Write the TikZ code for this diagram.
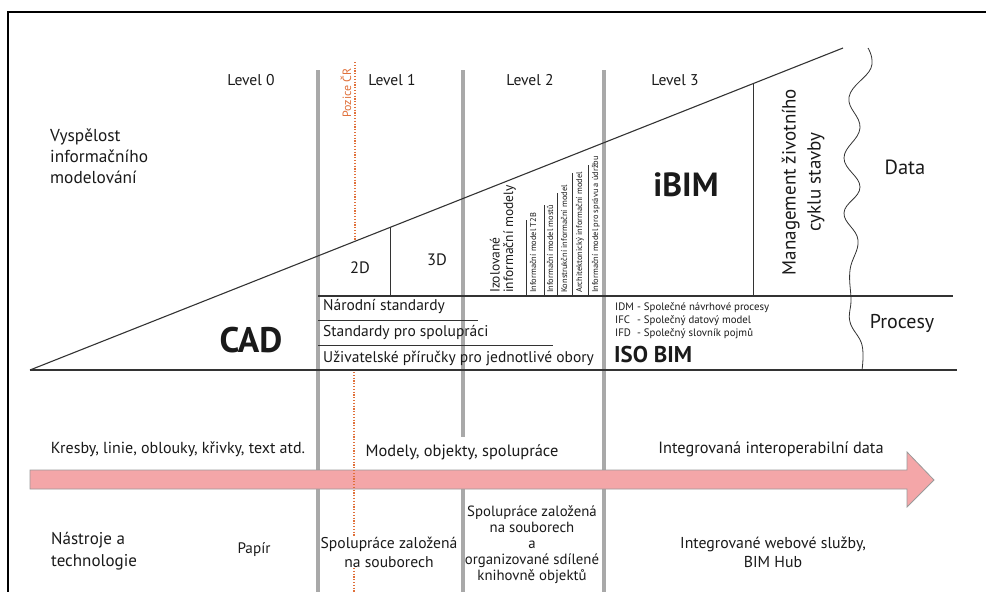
\documentclass[tikz,border=0pt]{standalone}
\usepackage{fontspec}
\setmainfont{PT Sans}
\definecolor{gridgray}{HTML}{A9A9A9}
\definecolor{linegray}{HTML}{333333}
\definecolor{pozorange}{HTML}{E0703A}
\definecolor{arrowpink}{HTML}{F4A6A8}
\definecolor{arrowedge}{HTML}{9A9A9A}
\definecolor{txt}{HTML}{1A1A1A}
\begin{document}
\begin{tikzpicture}[x=1pt,y=-1pt,
  gridln/.style={draw=gridgray,line width=3.5pt},
  thinln/.style={draw=linegray,line width=1.1pt},
  hairln/.style={draw=linegray,line width=0.8pt},
  pozln/.style={draw=pozorange,line width=2pt,dash pattern=on 1.2pt off 1.6pt},
  lbl/.style={text=txt,inner sep=0pt},
  f/.style={font=\fontsize{#1}{\dimexpr #1pt*13/10\relax}\selectfont},
  tiny/.style={lbl,rotate=90,anchor=west,font=\fontsize{8.4}{9}\selectfont}
]
\useasboundingbox (0,0) rectangle (986,592);
\fill[white] (0,0) rectangle (986,592);
% frame
\draw[line width=2pt,black] (8,592) -- (8,12) -- (986,12);

% gray level separators
\coordinate (g1a) at (318,70); \coordinate (g1b) at (318,592);
\coordinate (g2a) at (463,70); \coordinate (g2b) at (463,437);
\coordinate (g2c) at (463,489); \coordinate (g2d) at (463,592);
\coordinate (g3a) at (604,70); \coordinate (g3b) at (604,592);
\draw[gridln] (g1a) -- (g1b);
\draw[gridln] (g2a) -- (g2b);
\draw[gridln] (g2c) -- (g2d);
\draw[gridln] (g3a) -- (g3b);

% triangle and bands
\coordinate (tl) at (30,370);
\coordinate (tr) at (843,48);
\draw[thinln] (tl) -- (tr);
\coordinate (bl) at (957,370);
\draw[thinln] (tl) -- (bl);
\coordinate (pa) at (318,296); \coordinate (pb) at (953,296);
\draw[thinln] (pa) -- (pb);
\draw[hairln] (390,227.4) -- (390,296);
\draw[hairln] (753,83.6) -- (753,296);
\draw[hairln] (318,320) -- (478,320);
\draw[hairln] (318,345) -- (553,345);
\draw[hairln] (526,220) -- (526,296);
\draw[hairln] (544,205) -- (544,296);
\draw[hairln] (557,193) -- (557,296);
\draw[hairln] (572,173) -- (572,296);
\draw[hairln] (588,165) -- (588,296);

% wavy break
\draw[hairln] plot[smooth,tension=0.7] coordinates {(868,48) (871,68) (849,97) (860,128) (844,158) (860,187) (844,213) (858,240) (850,270) (851,300) (850,322) (862,345) (862,370)};

% Pozice CR upper dotted line
\coordinate (p1) at (355,62); \coordinate (p2) at (355,241);
\draw[pozln] (p1) -- (p2);
\node[lbl,rotate=90,text=pozorange,font=\fontsize{12}{14}\selectfont] (poz) at (346,93) {Pozice ČR};

% arrow
\draw[fill=arrowpink,draw=arrowedge,line width=0.8pt]
  (30,470) -- (907,470) -- (907,452) -- (934,480) -- (907,507) -- (907,489) -- (30,489) -- cycle;

% Pozice CR lower dotted line
\coordinate (p3) at (354,372); \coordinate (p4) at (354,592);
\draw[pozln] (p3) -- (p4);

% level labels
\node[lbl,f=15.6] (l0) at (251,80) {Level 0};
\node[lbl,f=15.6] (l1) at (392,80) {Level 1};
\node[lbl,f=15.6] (l2) at (530,80) {Level 2};
\node[lbl,f=15.6] (l3) at (675,80) {Level 3};

\node[lbl,anchor=west,align=left,font=\fontsize{17.3}{21}\selectfont] (vys) at (50,156) {Vyspělost\\informačního\\modelování};

\node[lbl,font=\bfseries\fontsize{35.5}{38}\selectfont] (cad) at (251,340) {CAD};
\node[lbl,font=\bfseries\fontsize{33.5}{36}\selectfont] (ibim) at (686,185) {iBIM};
\node[lbl,f=16.5] (d2) at (360,268) {2D};
\node[lbl,f=16.5] (d3) at (437,260) {3D};

\node[lbl,rotate=90,anchor=west,align=left,font=\fontsize{13.5}{13.5}\selectfont] (izo) at (503,293) {Izolované\\informační modely};
\node[tiny] (t1) at (533,293) {Informační model T2B};
\node[tiny] (t2) at (550,293) {Informační model mostů};
\node[tiny] (t3) at (564,293) {Konstrukční informační model};
\node[tiny] (t4) at (580,293) {Architektonický informační model};
\node[tiny] (t5) at (596,293) {Informační model pro správu a údržbu};

\node[lbl,anchor=west,f=15.5] (s1) at (323,307) {Národní standardy};
\node[lbl,anchor=west,f=15.5] (s2) at (323,333) {Standardy pro spolupráci};
\node[lbl,anchor=west,f=15.5] (s3) at (323,358) {Uživatelské příručky pro jednotlivé obory};

\node[lbl,anchor=west,f=10.8] (idm) at (615,308) {\makebox[22pt][l]{IDM}- Společné návrhové procesy};
\node[lbl,anchor=west,f=10.8] (ifc) at (615,321) {\makebox[22pt][l]{IFC}- Společný datový model};
\node[lbl,anchor=west,f=10.8] (ifd) at (615,334) {\makebox[22pt][l]{IFD}- Společný slovník pojmů};
\node[lbl,anchor=west,font=\bfseries\fontsize{22.8}{25}\selectfont] (iso) at (614,355) {ISO BIM};

\node[lbl,rotate=90,align=center,font=\fontsize{19}{25}\selectfont] (mgmt) at (803,182) {Management životního\\cyklu stavby};
\node[lbl,f=20.5] (data) at (905,167) {Data};
\node[lbl,f=20] (proc) at (902,323) {Procesy};

% arrow labels
\node[lbl,f=16] (a1) at (178,449) {Kresby, linie, oblouky, křivky, text atd.};
\node[lbl,f=16.4] (a2) at (462,452) {Modely, objekty, spolupráce};
\node[lbl,f=16.3] (a3) at (771,449) {Integrovaná interoperabilní data};

% tools row
\node[lbl,anchor=west,align=left,font=\fontsize{17}{22}\selectfont] (nas) at (51,551) {Nástroje a\\technologie};
\node[lbl,f=15.2] (pap) at (254,550) {Papír};
\node[lbl,align=center,fill=white,inner sep=1pt,font=\fontsize{15.6}{19}\selectfont] (b1) at (389,552) {Spolupráce založená\\na souborech};
\node[lbl,align=center,font=\fontsize{14.8}{16}\selectfont] (b2) at (532,545) {Spolupráce založená\\na souborech\\a\\organizované sdílené\\knihovně objektů};
\node[lbl,align=center,font=\fontsize{15.8}{19}\selectfont] (b3) at (773,552) {Integrované webové služby,\\BIM Hub};
\end{tikzpicture}
\end{document}
